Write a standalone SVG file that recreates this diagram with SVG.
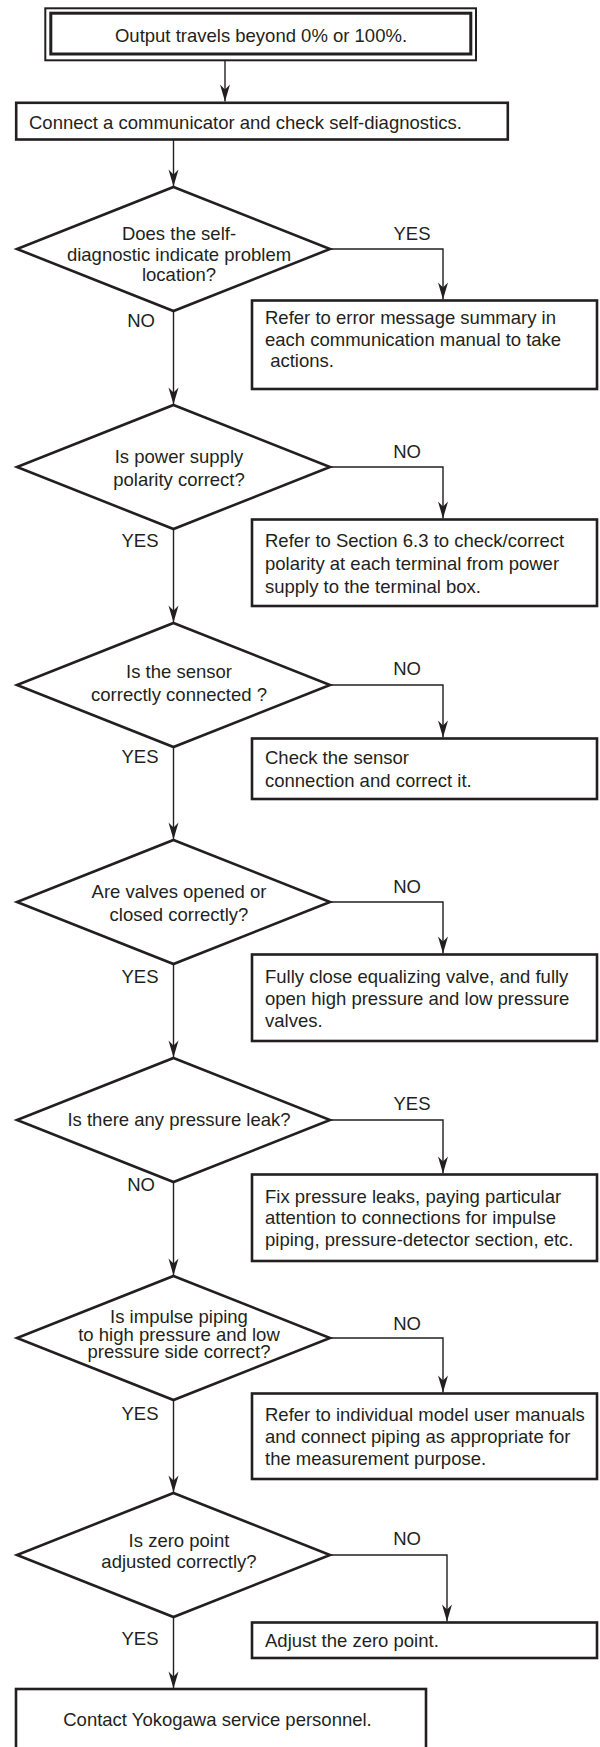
<svg xmlns="http://www.w3.org/2000/svg" width="600" height="1747" viewBox="0 0 600 1747">
<style>
  .t { font-family: "Liberation Sans", Arial, Helvetica, sans-serif; font-size: 18.5px; fill: #231f20; white-space: pre; }
  .c { text-anchor: middle; }
  .box { fill: #ffffff; stroke: #231f20; stroke-width: 2.6; }
  .dia { fill: #ffffff; stroke: #231f20; stroke-width: 2.6; stroke-linejoin: miter; }
  .ln { fill: none; stroke: #231f20; stroke-width: 1.4; marker-end: url(#arr); }
</style>
<defs>
  <marker id="arr" markerUnits="userSpaceOnUse" viewBox="-18 -6 19 12" markerWidth="19" markerHeight="12" refX="0" refY="0" orient="auto">
    <path d="M0,0 L-17,-5 L-12,0 L-17,5 Z" fill="#231f20"/>
  </marker>
</defs>
<rect width="600" height="1747" fill="#ffffff"/>

<g id="connectors">
  <line class="ln" x1="225" y1="60.3" x2="225" y2="101.5"/>
  <line class="ln" x1="173.5" y1="139.5" x2="173.5" y2="186.5"/>
  <polyline class="ln" points="330,249 443,249 443,299.5"/>
  <line class="ln" x1="173.5" y1="311" x2="173.5" y2="404.5"/>
  <polyline class="ln" points="330,467 443,467 443,518.5"/>
  <line class="ln" x1="173.5" y1="529" x2="173.5" y2="622.5"/>
  <polyline class="ln" points="330,685 443,685 443,737.5"/>
  <line class="ln" x1="173.5" y1="747" x2="173.5" y2="839.5"/>
  <polyline class="ln" points="330,902 443,902 443,953.5"/>
  <line class="ln" x1="173.5" y1="964" x2="173.5" y2="1057.5"/>
  <polyline class="ln" points="330,1120 443,1120 443,1173.5"/>
  <line class="ln" x1="173.5" y1="1182" x2="173.5" y2="1275.5"/>
  <polyline class="ln" points="330,1338 443,1338 443,1392.5"/>
  <line class="ln" x1="173.5" y1="1400" x2="173.5" y2="1492.5"/>
  <polyline class="ln" points="330,1555 447,1555 447,1621.5"/>
  <line class="ln" x1="173.5" y1="1617" x2="173.5" y2="1688.5"/>
</g>

<g id="labels">
  <text class="t c" x="412" y="240">YES</text>
  <text class="t c" x="141" y="327">NO</text>
  <text class="t c" x="407" y="458">NO</text>
  <text class="t c" x="140" y="546.5">YES</text>
  <text class="t c" x="407" y="675">NO</text>
  <text class="t c" x="140" y="763">YES</text>
  <text class="t c" x="407" y="892.5">NO</text>
  <text class="t c" x="140" y="982.5">YES</text>
  <text class="t c" x="412" y="1109.5">YES</text>
  <text class="t c" x="141" y="1190.5">NO</text>
  <text class="t c" x="407" y="1329.5">NO</text>
  <text class="t c" x="140" y="1419.5">YES</text>
  <text class="t c" x="407" y="1545">NO</text>
  <text class="t c" x="140" y="1645">YES</text>
</g>

<g id="start">
  <rect x="45.3" y="8.3" width="430.7" height="52" fill="#ffffff" stroke="#231f20" stroke-width="2"/>
  <rect x="50.8" y="13.2" width="420" height="40.8" fill="none" stroke="#231f20" stroke-width="3"/>
  <text class="t c" x="261" y="41.5">Output travels beyond 0% or 100%.</text>
</g>

<g id="connect">
  <rect class="box" x="16.2" y="102.8" width="491.6" height="36.7"/>
  <text class="t" x="29" y="129">Connect a communicator and check self-diagnostics.</text>
</g>

<g id="q1">
  <polygon class="dia" points="173.5,187 330,249 173.5,311 17,249"/>
  <text class="t c" x="179" y="240">Does the self-</text>
  <text class="t c" x="179" y="260.5">diagnostic indicate problem</text>
  <text class="t c" x="179" y="281">location?</text>
</g>

<g id="a1">
  <rect class="box" x="252" y="300.5" width="345" height="88.5"/>
  <text class="t" x="265" y="324">Refer to error message summary in</text>
  <text class="t" x="265" y="345.5">each communication manual to take</text>
  <text class="t" x="265" y="366.7"> actions.</text>
</g>

<g id="q2">
  <polygon class="dia" points="173.5,405 330,467 173.5,529 17,467"/>
  <text class="t c" x="179" y="463">Is power supply</text>
  <text class="t c" x="179" y="485.5">polarity correct?</text>
</g>

<g id="a2">
  <rect class="box" x="252" y="519.5" width="345" height="86.5"/>
  <text class="t" x="265" y="547">Refer to Section 6.3 to check/correct</text>
  <text class="t" x="265" y="570">polarity at each terminal from power</text>
  <text class="t" x="265" y="592.7">supply to the terminal box.</text>
</g>

<g id="q3">
  <polygon class="dia" points="173.5,623 330,685 173.5,747 17,685"/>
  <text class="t c" x="179" y="678">Is the sensor</text>
  <text class="t c" x="179" y="701">correctly connected ?</text>
</g>

<g id="a3">
  <rect class="box" x="252" y="738.5" width="345" height="60.5"/>
  <text class="t" x="265" y="764.3">Check the sensor</text>
  <text class="t" x="265" y="786.7">connection and correct it.</text>
</g>

<g id="q4">
  <polygon class="dia" points="173.5,840 330,902 173.5,964 17,902"/>
  <text class="t c" x="179" y="898">Are valves opened or</text>
  <text class="t c" x="179" y="920.7">closed correctly?</text>
</g>

<g id="a4">
  <rect class="box" x="252" y="954.5" width="345" height="86.5"/>
  <text class="t" x="265" y="982.7">Fully close equalizing valve, and fully</text>
  <text class="t" x="265" y="1005">open high pressure and low pressure</text>
  <text class="t" x="265" y="1026.7">valves.</text>
</g>

<g id="q5">
  <polygon class="dia" points="173.5,1058 330,1120 173.5,1182 17,1120"/>
  <text class="t c" x="179" y="1126">Is there any pressure leak?</text>
</g>

<g id="a5">
  <rect class="box" x="252" y="1174.5" width="345" height="86.5"/>
  <text class="t" x="265" y="1202.7">Fix pressure leaks, paying particular</text>
  <text class="t" x="265" y="1224.3">attention to connections for impulse</text>
  <text class="t" x="265" y="1246">piping, pressure-detector section, etc.</text>
</g>

<g id="q6">
  <polygon class="dia" points="173.5,1276 330,1338 173.5,1400 17,1338"/>
  <text class="t c" x="179" y="1322.7">Is impulse piping</text>
  <text class="t c" x="179" y="1340.7">to high pressure and low</text>
  <text class="t c" x="179" y="1358.3">pressure side correct?</text>
</g>

<g id="a6">
  <rect class="box" x="252" y="1393.5" width="345" height="85.5"/>
  <text class="t" x="265" y="1420.7">Refer to individual model user manuals</text>
  <text class="t" x="265" y="1442.7">and connect piping as appropriate for</text>
  <text class="t" x="265" y="1465">the measurement purpose.</text>
</g>

<g id="q7">
  <polygon class="dia" points="173.5,1493 330,1555 173.5,1617 17,1555"/>
  <text class="t c" x="179" y="1547.3">Is zero point</text>
  <text class="t c" x="179" y="1568.3">adjusted correctly?</text>
</g>

<g id="a7">
  <rect class="box" x="252" y="1622.5" width="345" height="35.5"/>
  <text class="t" x="265" y="1647.3">Adjust the zero point.</text>
</g>

<g id="end">
  <rect class="box" x="16" y="1689" width="410" height="80"/>
  <text class="t c" x="217.5" y="1726">Contact Yokogawa service personnel.</text>
</g>
</svg>
